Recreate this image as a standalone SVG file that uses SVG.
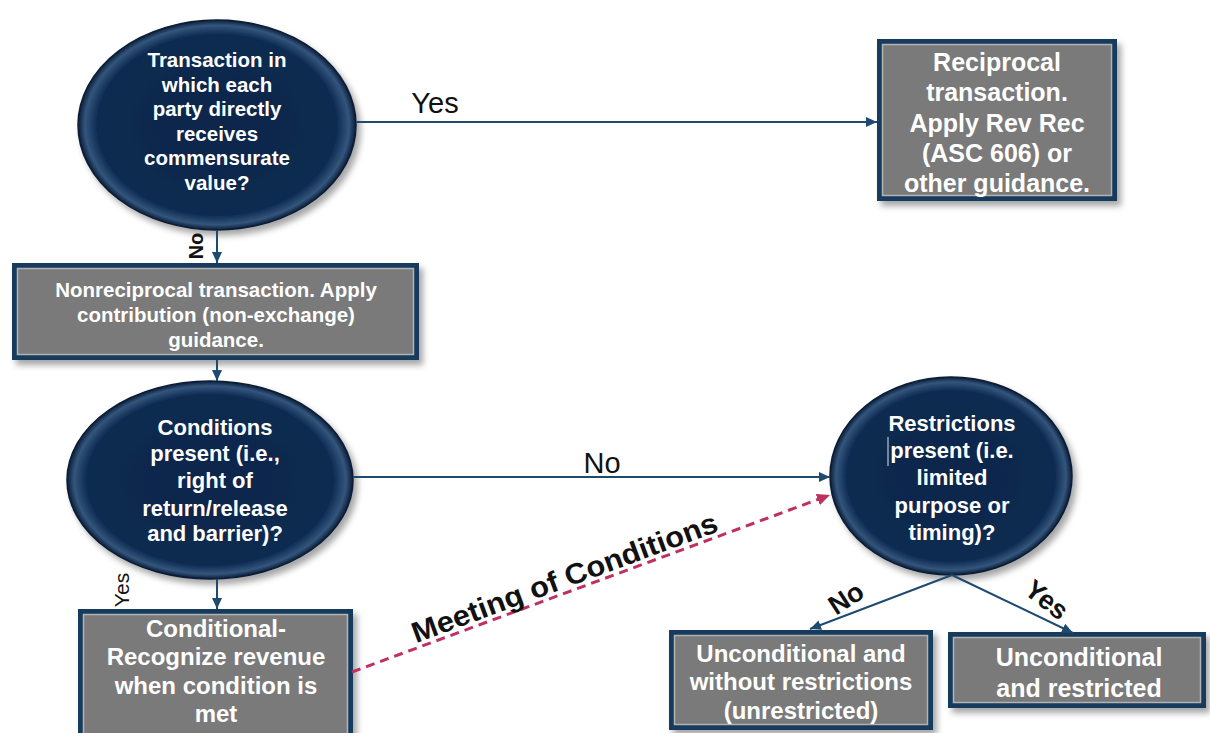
<svg xmlns="http://www.w3.org/2000/svg" width="1210" height="733" viewBox="0 0 1210 733">
<style>
.bt{font-family:"Liberation Sans",Arial,sans-serif;font-weight:bold;fill:#ffffff;text-anchor:middle}
.lbl{font-family:"Liberation Sans",Arial,sans-serif;fill:#111111;text-anchor:middle}
.outer{fill:#173a5c}
.inner{fill:#7a7a7a;stroke:#b3b3b3;stroke-width:1.5}
.ell{fill:url(#eg);stroke:#0a1b33;stroke-width:1.5}
.con{fill:none;stroke:#1f4a70;stroke-width:2}
.dash{fill:none;stroke:#c0305e;stroke-width:3;stroke-dasharray:9 6}
</style>
<defs>
<radialGradient id="eg" cx="0.5" cy="0.5" r="0.5">
<stop offset="0" stop-color="#0c2649"/>
<stop offset="0.86" stop-color="#0d2a51"/>
<stop offset="0.95" stop-color="#34557c"/>
<stop offset="1" stop-color="#0a1d38"/>
</radialGradient>
<filter id="sh" x="-10%" y="-10%" width="125%" height="130%">
<feDropShadow dx="4" dy="5" stdDeviation="3" flood-color="#000" flood-opacity="0.35"/>
</filter>
<marker id="ah" markerUnits="userSpaceOnUse" markerWidth="12" markerHeight="10" refX="11" refY="5" orient="auto">
<path d="M0,0 L11,5 L0,10 z" fill="#1f4a70"/>
</marker>
<marker id="ahr" markerUnits="userSpaceOnUse" markerWidth="14" markerHeight="12" refX="13" refY="6" orient="auto">
<path d="M0,0 L13,6 L0,12 z" fill="#c0305e"/>
</marker>
</defs>
<rect width="1210" height="733" fill="#ffffff"/>

<g id="q1">
<ellipse class="ell" cx="217" cy="125" rx="139" ry="105" filter="url(#sh)"/>
<text class="bt" font-size="20.5"><tspan x="217" y="67">Transaction in</tspan><tspan x="217" y="91.6">which each</tspan><tspan x="217" y="116.2">party directly</tspan><tspan x="217" y="140.8">receives</tspan><tspan x="217" y="165.4">commensurate</tspan><tspan x="217" y="190">value?</tspan></text>
</g>

<g id="reciprocal">
<g filter="url(#sh)"><rect class="outer" x="877" y="39" width="240" height="162"/></g>
<rect class="inner" x="882.5" y="44.5" width="229" height="151"/>
<text class="bt" font-size="25"><tspan x="997" y="71">Reciprocal</tspan><tspan x="997" y="101">transaction.</tspan><tspan x="997" y="132">Apply Rev Rec</tspan><tspan x="997" y="162">(ASC 606) or</tspan><tspan x="997" y="192">other guidance.</tspan></text>
</g>

<g id="nonreciprocal">
<g filter="url(#sh)"><rect class="outer" x="12" y="263" width="407" height="97"/></g>
<rect class="inner" x="17.5" y="268.5" width="396" height="86"/>
<text class="bt" font-size="20.5"><tspan x="216" y="297">Nonreciprocal transaction. Apply</tspan><tspan x="216" y="322">contribution (non-exchange)</tspan><tspan x="216" y="347">guidance.</tspan></text>
</g>

<g id="q2">
<ellipse class="ell" cx="210" cy="480" rx="143" ry="99" filter="url(#sh)"/>
<text class="bt" font-size="22"><tspan x="215" y="435">Conditions</tspan><tspan x="215" y="461">present (i.e.,</tspan><tspan x="215" y="488">right of</tspan><tspan x="215" y="516">return/release</tspan><tspan x="215" y="541">and barrier)?</tspan></text>
</g>

<g id="q3">
<ellipse class="ell" cx="951" cy="476" rx="121" ry="99" filter="url(#sh)"/>
<text class="bt" font-size="22"><tspan x="952" y="431">Restrictions</tspan><tspan x="952" y="458">present (i.e.</tspan><tspan x="952" y="485">limited</tspan><tspan x="952" y="513">purpose or</tspan><tspan x="952" y="540">timing)?</tspan></text>
<line x1="888" y1="437" x2="888" y2="466" stroke="#9aa6b4" stroke-width="1.5"/>
</g>

<g id="conditional">
<g filter="url(#sh)"><rect class="outer" x="78" y="609" width="275" height="140"/></g>
<rect class="inner" x="83.5" y="614.5" width="264" height="130"/>
<text class="bt" font-size="24"><tspan x="216" y="637">Conditional-</tspan><tspan x="216" y="665">Recognize revenue</tspan><tspan x="216" y="694">when condition is</tspan><tspan x="216" y="722">met</tspan></text>
</g>

<g id="unrestricted">
<g filter="url(#sh)"><rect class="outer" x="669" y="630" width="264" height="100"/></g>
<rect class="inner" x="674.5" y="635.5" width="253" height="89"/>
<text class="bt" font-size="24"><tspan x="801" y="662">Unconditional and</tspan><tspan x="801" y="690">without restrictions</tspan><tspan x="801" y="719">(unrestricted)</tspan></text>
</g>

<g id="restricted">
<g filter="url(#sh)"><rect class="outer" x="948" y="632" width="258" height="76"/></g>
<rect class="inner" x="953.5" y="637.5" width="247" height="65"/>
<text class="bt" font-size="25"><tspan x="1079" y="666">Unconditional</tspan><tspan x="1079" y="697">and restricted</tspan></text>
</g>

<g id="connectors">
<line class="con" x1="356" y1="122" x2="877" y2="122" marker-end="url(#ah)"/>
<line class="con" x1="217" y1="230" x2="217" y2="263" marker-end="url(#ah)"/>
<line class="con" x1="217" y1="360" x2="217" y2="381" marker-end="url(#ah)"/>
<line class="con" x1="353" y1="477" x2="830" y2="477" marker-end="url(#ah)"/>
<line class="con" x1="217" y1="579" x2="217" y2="609" marker-end="url(#ah)"/>
<line class="dash" x1="352" y1="672" x2="830" y2="495" marker-end="url(#ahr)"/>
<line class="con" x1="952" y1="575" x2="810" y2="629" marker-end="url(#ah)"/>
<line class="con" x1="952" y1="575" x2="1073" y2="633" marker-end="url(#ah)"/>
<text class="lbl" font-size="29" x="435" y="113">Yes</text>
<text class="lbl" font-size="20" font-weight="bold" transform="translate(203,246) rotate(-90)" x="0" y="0">No</text>
<text class="lbl" font-size="29" x="602" y="473">No</text>
<text class="lbl" font-size="21" transform="translate(129,590) rotate(-90)" x="0" y="0">Yes</text>
<text class="lbl" font-size="29" font-weight="bold" textLength="324" lengthAdjust="spacingAndGlyphs" transform="translate(568,587) rotate(-20.3)" x="0" y="0">Meeting of Conditions</text>
<text class="lbl" font-size="27" font-weight="bold" transform="translate(851,606) rotate(-33)" x="0" y="0">No</text>
<text class="lbl" font-size="27" font-weight="bold" transform="translate(1041,607) rotate(38)" x="0" y="0">Yes</text>
</g>
</svg>
